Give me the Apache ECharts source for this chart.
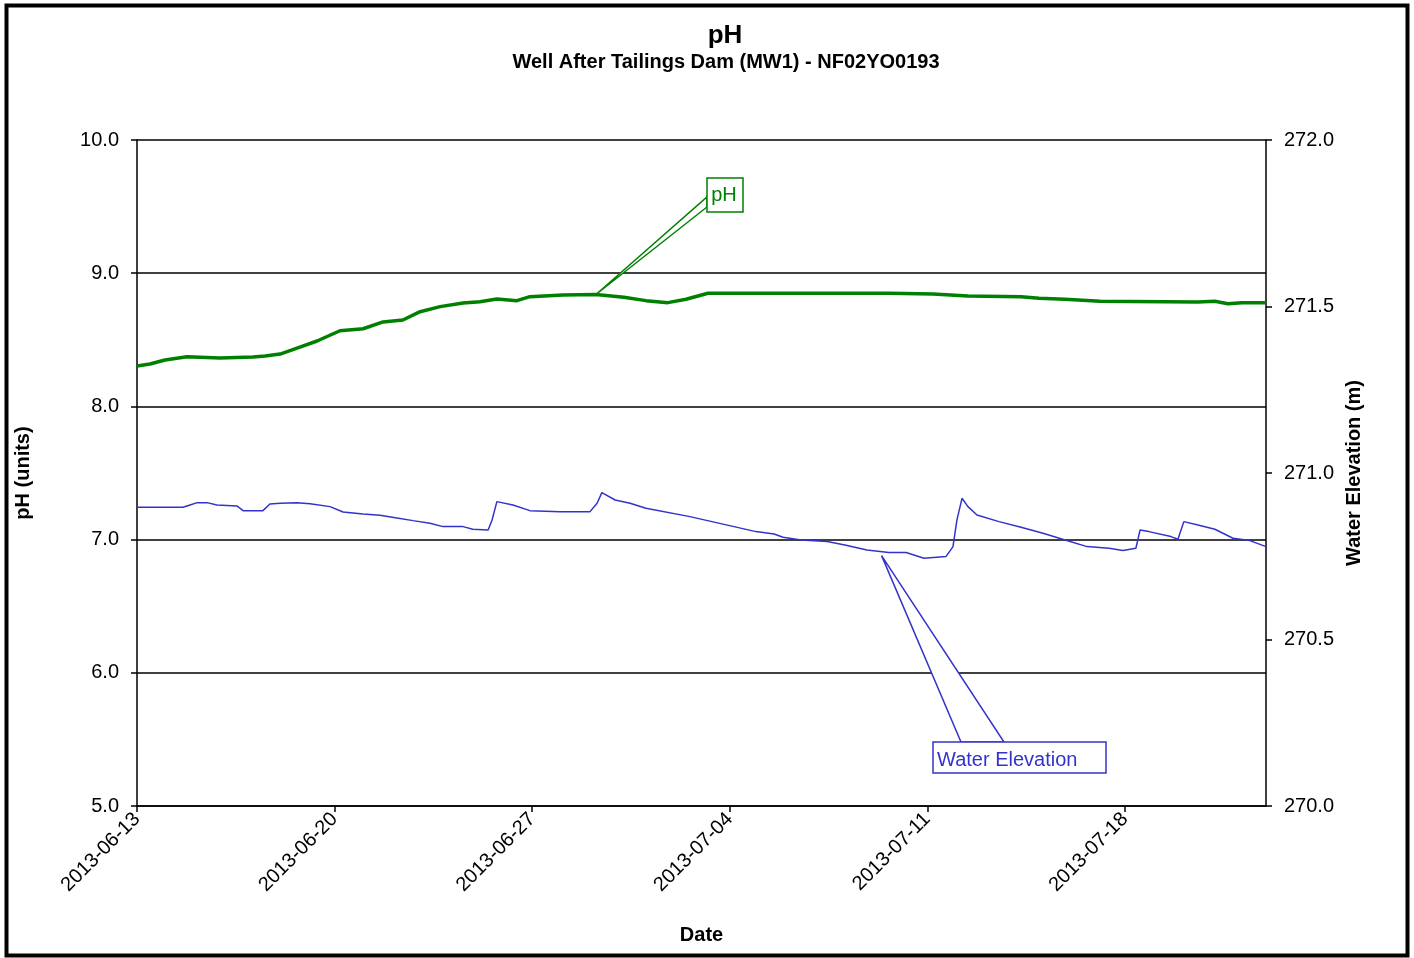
<!DOCTYPE html>
<html>
<head>
<meta charset="utf-8">
<script src="https://cdn.jsdelivr.net/npm/echarts@6/dist/echarts.min.js"></script>
<style>
html,body{margin:0;padding:0;background:#fff;}
#chart{width:1414px;height:958px;}
</style>
</head>
<body>
<div id="chart"></div>
<script>
// x values are days since 2013-06-13 00:00
var startDate = '2013-06-13';
var xTickDays = [0, 7, 14, 21, 28, 35];
var xTickLabels = ['2013-06-13', '2013-06-20', '2013-06-27', '2013-07-04', '2013-07-11', '2013-07-18'];

var phDays = [0.00, 0.46, 0.99, 1.77, 2.94, 4.11, 4.54, 5.07, 5.67, 6.38, 7.19, 8.01, 8.72, 9.42, 10.03, 10.74, 11.55, 12.15, 12.75, 13.46, 13.92, 15.09, 16.26, 17.25, 18.03, 18.81, 19.45, 20.23, 21.72, 23.49, 25.26, 26.64, 28.20, 29.44, 31.32, 31.96, 32.88, 34.12, 37.59, 38.19, 38.65, 39.15, 40.00];
var phValues = [8.303, 8.318, 8.348, 8.373, 8.363, 8.371, 8.378, 8.393, 8.438, 8.491, 8.568, 8.583, 8.634, 8.649, 8.711, 8.749, 8.776, 8.786, 8.806, 8.794, 8.824, 8.836, 8.840, 8.819, 8.794, 8.779, 8.804, 8.849, 8.849, 8.849, 8.849, 8.849, 8.844, 8.829, 8.824, 8.812, 8.804, 8.789, 8.784, 8.789, 8.771, 8.779, 8.779];

var wlDays = [0.00, 1.63, 1.88, 2.13, 2.48, 2.83, 3.54, 3.76, 4.46, 4.71, 5.07, 5.67, 6.13, 6.84, 7.30, 8.01, 8.61, 9.21, 9.78, 10.38, 10.84, 11.55, 11.90, 12.44, 12.58, 12.75, 13.32, 13.92, 14.99, 16.05, 16.30, 16.47, 16.94, 17.47, 18.03, 19.59, 20.37, 21.15, 21.93, 22.57, 22.89, 23.53, 24.45, 25.08, 25.86, 26.64, 27.25, 27.88, 28.66, 28.91, 29.05, 29.23, 29.44, 29.76, 30.54, 31.32, 32.10, 32.88, 33.66, 34.44, 34.93, 35.39, 35.54, 35.85, 36.63, 36.88, 37.09, 37.59, 38.19, 38.83, 39.43, 40.00];
var wlValues = [270.897, 270.897, 270.904, 270.911, 270.911, 270.904, 270.901, 270.887, 270.887, 270.907, 270.909, 270.911, 270.908, 270.899, 270.883, 270.877, 270.873, 270.865, 270.857, 270.849, 270.839, 270.839, 270.831, 270.829, 270.859, 270.914, 270.904, 270.887, 270.884, 270.884, 270.909, 270.941, 270.919, 270.909, 270.894, 270.869, 270.854, 270.839, 270.824, 270.817, 270.807, 270.799, 270.794, 270.784, 270.769, 270.761, 270.761, 270.744, 270.749, 270.779, 270.859, 270.924, 270.899, 270.874, 270.854, 270.837, 270.819, 270.799, 270.779, 270.774, 270.767, 270.774, 270.829, 270.824, 270.809, 270.801, 270.854, 270.844, 270.831, 270.804, 270.797, 270.779];

var phCalloutAt = [16.26, 8.84];
var wlCalloutAt = [26.38, 270.752];

function zip(a, b) { return a.map(function (v, i) { return [v, b[i]]; }); }

var FONT = '"Liberation Sans", Arial, sans-serif';
var GREEN = '#008000';
var BLUE = '#3333CC';

var chart = echarts.init(document.getElementById('chart'), null, {renderer: 'canvas'});
var option = {
  backgroundColor: '#fff',
  animation: false,
  title: [
    {text: 'pH', left: 720, top: 18, textAlign: 'center',
     textStyle: {fontFamily: FONT, fontSize: 26, fontWeight: 'bold', color: '#000'}},
    {text: 'Well After Tailings Dam (MW1) - NF02YO0193', left: 721, top: 47, textAlign: 'center',
     textStyle: {fontFamily: FONT, fontSize: 20, fontWeight: 'bold', color: '#000'}}
  ],
  grid: {left: 137, right: 148, top: 140, bottom: 152, containLabel: false},
  xAxis: {
    type: 'value', min: 0, max: 40, interval: 7,
    name: 'Date', nameLocation: 'middle', nameGap: 119,
    nameTextStyle: {fontFamily: FONT, fontSize: 20, fontWeight: 'bold', color: '#000'},
    axisLine: {show: true, onZero: false, lineStyle: {color: '#000', width: 1.5}},
    axisTick: {show: true, length: 6, customValues: xTickDays, lineStyle: {color: '#000', width: 1.5}},
    axisLabel: {customValues: xTickDays, rotate: 45, fontFamily: FONT, fontSize: 20, color: '#000', margin: 10,
      formatter: function (v) { var i = xTickDays.indexOf(v); return i >= 0 ? xTickLabels[i] : ''; }},
    splitLine: {show: false}
  },
  yAxis: [
    {
      type: 'value', min: 5, max: 10, interval: 1, position: 'left',
      name: 'pH (units)', nameLocation: 'middle', nameGap: 104, nameRotate: 90,
      nameTextStyle: {fontFamily: FONT, fontSize: 20, fontWeight: 'bold', color: '#000'},
      axisLine: {show: true, lineStyle: {color: '#000', width: 1.5}},
      axisTick: {show: true, length: 6, lineStyle: {color: '#000', width: 1.5}},
      axisLabel: {fontFamily: FONT, fontSize: 20, color: '#000', margin: 18,
        formatter: function (v) { return v.toFixed(1); }},
      splitLine: {show: true, lineStyle: {color: '#000', width: 1.5}}
    },
    {
      type: 'value', min: 270, max: 272, interval: 0.5, position: 'right',
      name: 'Water Elevation (m)', nameLocation: 'middle', nameGap: 76, nameRotate: 90,
      nameTextStyle: {fontFamily: FONT, fontSize: 20, fontWeight: 'bold', color: '#000'},
      axisLine: {show: true, lineStyle: {color: '#000', width: 1.5}},
      axisTick: {show: true, length: 6, lineStyle: {color: '#000', width: 1.5}},
      axisLabel: {fontFamily: FONT, fontSize: 20, color: '#000', margin: 18,
        formatter: function (v) { return v.toFixed(1); }},
      splitLine: {show: false}
    }
  ],
  series: [
    {name: 'pH', type: 'line', yAxisIndex: 0, data: zip(phDays, phValues), showSymbol: false,
     lineStyle: {color: GREEN, width: 3.5}, itemStyle: {color: GREEN}, z: 3},
    {name: 'Water Elevation', type: 'line', yAxisIndex: 1, data: zip(wlDays, wlValues), showSymbol: false,
     lineStyle: {color: BLUE, width: 1.5}, itemStyle: {color: BLUE}, z: 2}
  ]
};
chart.setOption(option);

var phTip = chart.convertToPixel({xAxisIndex: 0, yAxisIndex: 0}, phCalloutAt);
var wlTip = chart.convertToPixel({xAxisIndex: 0, yAxisIndex: 1}, wlCalloutAt);

chart.setOption({
  graphic: [
    {type: 'rect', shape: {x: 6.5, y: 5.5, width: 1401, height: 950}, z: 100,
     style: {fill: 'none', stroke: '#000', lineWidth: 4}, silent: true},
    // pH callout
    {type: 'polygon', z: 50, shape: {points: [phTip, [707, 197], [707, 207]]},
     style: {fill: '#fff', stroke: GREEN, lineWidth: 1.5}},
    {type: 'rect', z: 51, shape: {x: 707, y: 178, width: 36, height: 34},
     style: {fill: '#fff', stroke: GREEN, lineWidth: 1.5}},
    {type: 'text', z: 52, x: 724, y: 195,
     style: {text: 'pH', fill: GREEN, font: '20px ' + FONT, align: 'center', verticalAlign: 'middle'}},
    // Water Elevation callout
    {type: 'polygon', z: 50, shape: {points: [wlTip, [961, 742], [1004, 742]]},
     style: {fill: '#fff', stroke: BLUE, lineWidth: 1.5}},
    {type: 'rect', z: 51, shape: {x: 933, y: 742, width: 173, height: 31},
     style: {fill: '#fff', stroke: BLUE, lineWidth: 1.5}},
    {type: 'text', z: 52, x: 937, y: 760,
     style: {text: 'Water Elevation', fill: BLUE, font: '20px ' + FONT, align: 'left', verticalAlign: 'middle'}}
  ]
});
</script>
</body>
</html>
